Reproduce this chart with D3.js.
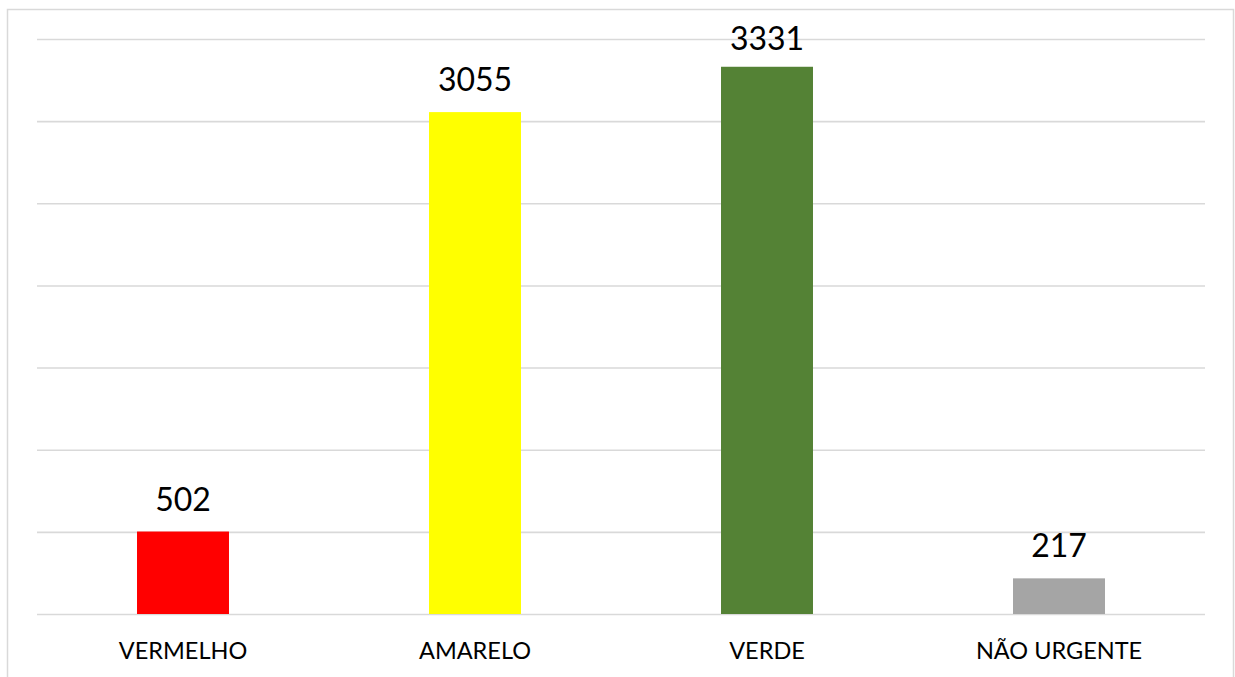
<!DOCTYPE html>
<html>
<head>
<meta charset="utf-8">
<script src="https://cdn.jsdelivr.net/npm/d3@7"></script>
<style>
  html, body { margin: 0; padding: 0; background: #fff; }
  svg { display: block; }
  text { font-family: Lato, "Open Sans", sans-serif; fill: #000; }
</style>
</head>
<body>
<svg id="chart" width="1235" height="677"></svg>
<script>
const categories = ["VERMELHO", "AMARELO", "VERDE", "NÃO URGENTE"];
const values = [502, 3055, 3331, 217];
const colors = ["#FF0000", "#FFFF00", "#548235", "#A5A5A5"];
const yTicks = [0, 500, 1000, 1500, 2000, 2500, 3000, 3500];

const svg = d3.select("#chart");

// chart area border
svg.append("rect")
  .attr("x", 7.5).attr("y", 9.5)
  .attr("width", 1226).attr("height", 700)
  .attr("fill", "#fff").attr("stroke", "#D9D9D9").attr("stroke-width", 1.5);

const x = d3.scaleBand()
  .domain(categories)
  .range([37, 1205])
  .paddingInner(0.685)
  .paddingOuter(0.3425);

const y = d3.scaleLinear()
  .domain([0, 3500])
  .range([614, 39]);

// gridlines
const grid = svg.append("g")
  .attr("transform", "translate(37,0)")
  .call(d3.axisLeft(y).tickValues(yTicks).tickSize(-(1205 - 37)).tickFormat(""));
grid.select(".domain").remove();
grid.selectAll("line").attr("stroke", "#D9D9D9").attr("stroke-width", 1.6);

// bars
svg.append("g").selectAll("rect")
  .data(values)
  .join("rect")
  .attr("x", (d, i) => x(categories[i]))
  .attr("y", d => y(d))
  .attr("width", x.bandwidth())
  .attr("height", d => y(0) - y(d))
  .attr("fill", (d, i) => colors[i]);

// data labels
svg.append("g").selectAll("text")
  .data(values)
  .join("text")
  .attr("x", (d, i) => x(categories[i]) + x.bandwidth() / 2)
  .attr("y", d => Math.max(y(d) - 21, 49.5))
  .attr("text-anchor", "middle")
  .style("font-size", "32px")
  .text(d => d);

// category axis labels
const xAxis = svg.append("g")
  .attr("transform", `translate(0,${y(0)})`)
  .call(d3.axisBottom(x).tickSize(0).tickPadding(0));
xAxis.select(".domain").remove();
xAxis.selectAll("text")
  .attr("dy", null)
  .attr("y", 45)
  .style("font-size", "23.5px")
  .style("font-family", "Lato, 'Open Sans', sans-serif")
  .attr("fill", "#000");
</script>
</body>
</html>
